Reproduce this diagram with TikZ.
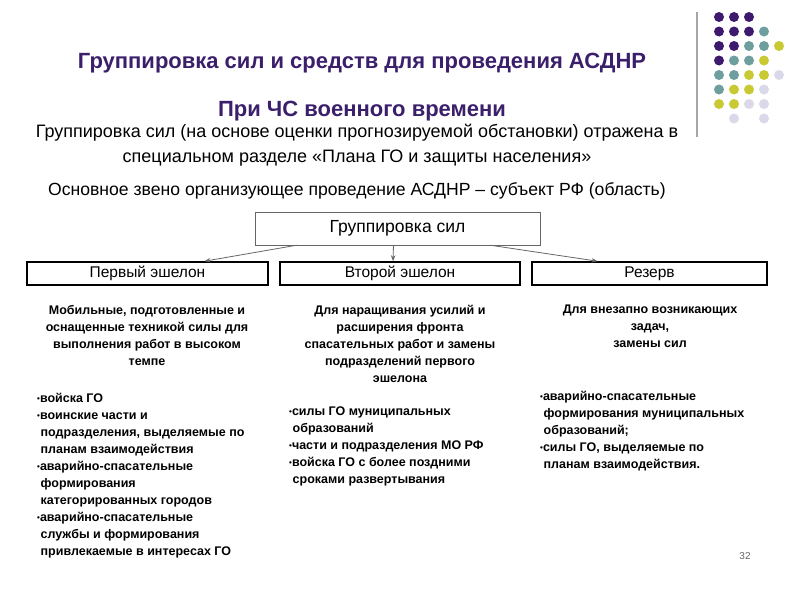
\documentclass[tikz,border=0pt]{standalone}
\usepackage{fontspec}
\setmainfont{Liberation Sans}
\usetikzlibrary{positioning,arrows.meta}

\definecolor{headpurple}{HTML}{3B1F6A}
\definecolor{dota}{HTML}{3D1A6E}
\definecolor{dotb}{HTML}{6E9E9E}
\definecolor{dotc}{HTML}{C9C934}
\definecolor{dotd}{HTML}{D9D9E9}

\tikzset{
  headline/.style={font=\fontsize{22}{26}\selectfont\bfseries, text=headpurple, inner sep=0},
  plainline/.style={font=\fontsize{18}{25}\selectfont, align=center, inner sep=0},
  groupbox/.style={draw=black!60, minimum width=285, minimum height=33, inner sep=0,
    text height=12.5, text depth=4, font=\fontsize{17.5}{20}\selectfont},
  echelon/.style={draw, line width=1.6pt, minimum height=23, inner sep=0,
    text height=11, text depth=3.5, font=\fontsize{15.5}{18}\selectfont},
  coltext/.style={font=\fontsize{12.5}{17}\selectfont\bfseries, align=center, inner sep=0, anchor=north},
  listtext/.style={font=\fontsize{12.5}{17}\selectfont\bfseries, align=left, inner sep=0, anchor=north west},
  link/.style={draw=black!60, line width=0.8pt, -{Stealth[length=6pt,width=4.5pt]}},
}
\newcommand{\bul}{{\fontsize{8}{8}\selectfont\raisebox{1.5pt}{•}}}

\begin{document}
\begin{tikzpicture}[x=1pt,y=-1pt]
  \useasboundingbox[fill=white] (0,0) rectangle (800,600);

  % decoration: rule and dots
  \draw[black!35, line width=2pt] (697,12) -- (697,137);
  \foreach \r/\lst in {0/{a,a,a},1/{a,a,a,b},2/{a,a,b,b,c},3/{a,b,b,c},
                       4/{b,b,c,c,d},5/{b,c,c,d},6/{c,c,d,d}}
    \foreach \c [count=\k from 0] in \lst
      \fill[dot\c] (719+15*\k,17+14.5*\r) circle (5);
  \fill[dotd] (734,118.5) circle (5);
  \fill[dotd] (764,118.5) circle (5);

  % headings
  \node[headline] (title) at (362,63) {Группировка сил и средств для проведения АСДНР};
  \node[headline] (subtitle) at (362,111) {При ЧС военного времени};
  \node[plainline] (note) at (357,145.5) {Группировка сил (на основе оценки прогнозируемой обстановки) отражена в\\
    специальном разделе «Плана ГО и защиты населения»};
  \node[plainline, font=\fontsize{17.6}{25}\selectfont] (base) at (357,191) {Основное звено организующее проведение АСДНР – субъект РФ (область)};

  % tree
  \node[groupbox] (group) at (397.5,228.5) {Группировка сил};
  \node[echelon, minimum width=241] (first) at (147.5,273.5) {Первый эшелон};
  \node[echelon, minimum width=240] (second) at (400,273.5) {Второй эшелон};
  \node[echelon, minimum width=235] (reserve) at (649.5,273.5) {Резерв};
  \draw[link] ([xshift=42]group.south west) -- ([xshift=57]first.north);
  \draw[link] ([xshift=-4]group.south) -- ([xshift=-7]second.north);
  \draw[link] ([xshift=-50]group.south east) -- ([xshift=-52]reserve.north);

  % first echelon
  \node[coltext] (firstdesc) at (147,305) {Мобильные, подготовленные и\\
    оснащенные техникой силы для\\ выполнения работ в высоком\\ темпе};
  \node[listtext] (firstlist) at (37,393) {\bul войска ГО\\
    \bul воинские части и\\
    \ подразделения, выделяемые по\\
    \ планам взаимодействия\\
    \bul аварийно-спасательные\\
    \ формирования\\
    \ категорированных городов\\
    \bul аварийно-спасательные\\
    \ службы и формирования\\
    \ привлекаемые в интересах ГО};

  % second echelon
  \node[coltext] (seconddesc) at (400,305) {Для наращивания усилий и\\
    расширения фронта\\ спасательных работ и замены\\ подразделений первого\\ эшелона};
  \node[listtext] (secondlist) at (289,407) {\bul силы ГО муниципальных\\
    \ образований\\
    \bul части и подразделения МО РФ\\
    \bul войска ГО с более поздними\\
    \ сроками развертывания};

  % reserve
  \node[coltext] (reservedesc) at (650,305) {Для внезапно возникающих\\ задач,\\ замены сил};
  \node[listtext] (reservelist) at (540,391) {\bul аварийно-спасательные\\
    \ формирования муниципальных\\
    \ образований;\\
    \bul силы ГО, выделяемые по\\
    \ планам взаимодействия.};

  \node[font=\fontsize{10}{12}\selectfont, text=black!60, inner sep=0] (page) at (745,556) {32};
\end{tikzpicture}
\end{document}
